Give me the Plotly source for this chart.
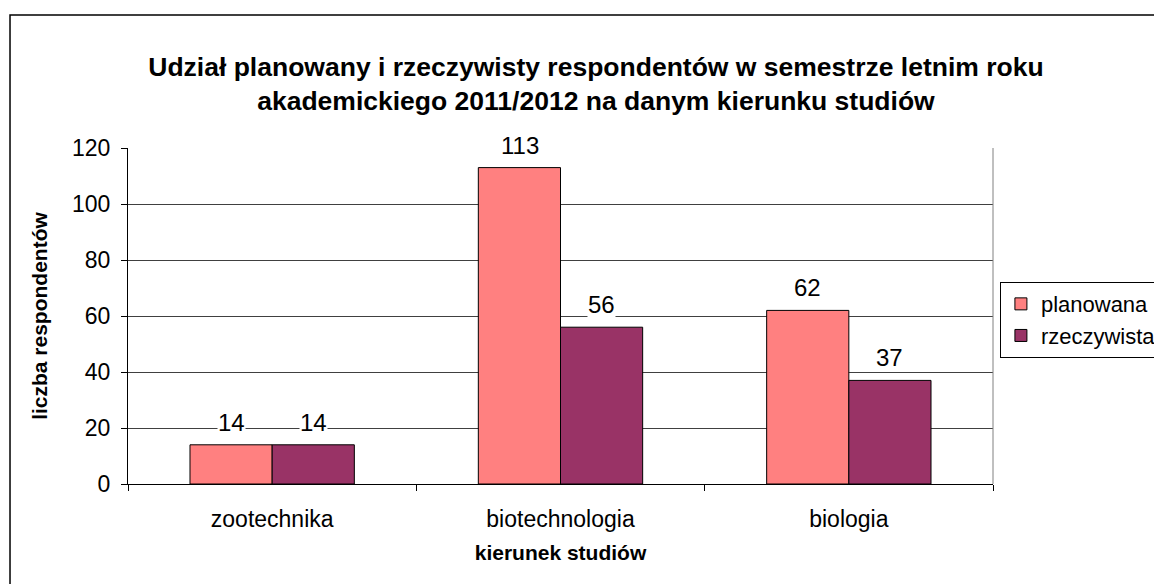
import plotly.graph_objects as go

kierunki = ["zootechnika", "biotechnologia", "biologia"]
planowana = [14, 113, 62]
rzeczywista = [14, 56, 37]

FONT = "Liberation Sans, Arial, sans-serif"

fig = go.Figure()
fig.add_trace(go.Bar(
    x=kierunki, y=planowana, name="planowana",
    marker=dict(color="#FF8080", line=dict(color="black", width=1)),
))
fig.add_trace(go.Bar(
    x=kierunki, y=rzeczywista, name="rzeczywista",
    marker=dict(color="#993366", line=dict(color="black", width=1)),
))

# value labels with white background (cut the gridlines like in Excel)
for vals, shift in ((planowana, -41), (rzeczywista, 41)):
    for k, v in zip(kierunki, vals):
        fig.add_annotation(
            x=k, y=v, text=str(v), xshift=shift, yshift=8,
            yanchor="bottom", showarrow=False, bgcolor="white",
            borderpad=0, font=dict(size=24, color="black", family=FONT),
        )

# outer chart border
fig.add_shape(type="rect", xref="paper", yref="paper",
              x0=-0.1364, x1=1.4, y0=-0.5, y1=1.396,
              line=dict(color="black", width=1.5), layer="below")

fig.update_layout(
    width=1154, height=576,
    margin=dict(l=120, r=169, t=140, b=100, autoexpand=False),
    paper_bgcolor="white", plot_bgcolor="white",
    font=dict(family=FONT, color="black"),
    barmode="group", bargap=0.43, bargroupgap=0,
    title=dict(
        text="Udział planowany i rzeczywisty respondentów w semestrze letnim roku<br>akademickiego 2011/2012 na danym kierunku studiów",
        x=0.5095, xanchor="center", y=0.882, yanchor="middle",
        font=dict(size=26.5, family=FONT, color="black", weight="bold"),
    ),
    xaxis=dict(
        title=dict(text="kierunek studiów", font=dict(size=21, weight="bold"), standoff=14),
        tickfont=dict(size=23), showline=True, linecolor="black", linewidth=1,
        ticks="outside", tickson="boundaries", ticklen=6, tickcolor="black",
        ticklabelstandoff=14, showgrid=False,
    ),
    yaxis=dict(
        title=dict(text="liczba respondentów", font=dict(size=21, weight="bold"), standoff=18),
        range=[0, 120], dtick=20, tickfont=dict(size=23),
        showline=True, linecolor="black", linewidth=1,
        ticks="outside", ticklen=6, tickcolor="black", ticklabelstandoff=6,
        showgrid=True, gridcolor="#404040", gridwidth=1, zeroline=False,
    ),
    legend=dict(
        x=1.008, xanchor="left", y=0.601, yanchor="top",
        font=dict(size=22), bordercolor="black", borderwidth=1,
        bgcolor="white", tracegroupgap=0, itemwidth=30,
    ),
    showlegend=True,
)

# right plot-area border
fig.add_shape(type="line", xref="paper", yref="paper", x0=1, x1=1, y0=0, y1=1,
              line=dict(color="#808080", width=1))

fig.write_html("out.html")
